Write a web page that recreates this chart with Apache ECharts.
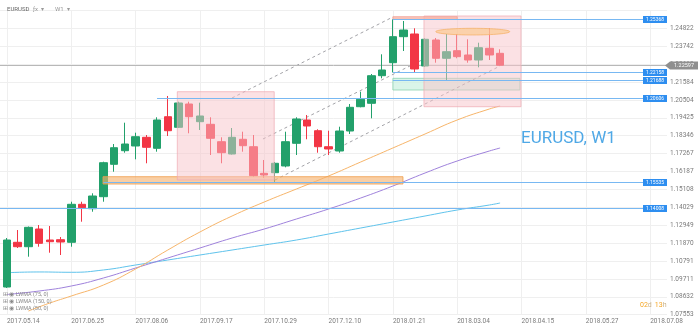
<!DOCTYPE html>
<html>
<head>
<meta charset="utf-8">
<script src="https://cdn.jsdelivr.net/npm/echarts@6/dist/echarts.min.js"></script>
<style>
  html, body { margin: 0; padding: 0; background: #ffffff; }
  #chart { width: 700px; height: 329px; }
</style>
</head>
<body>
<div id="chart"></div>
<script>
// Weekly EURUSD candles, first bar = week of 2017.05.14 (index 0)
const candleOpen  = [1.09222,1.11918,1.11652,1.12720,1.12057,1.12075,1.11918,1.14209,1.13944,1.14668,
                     1.16621,1.17442,1.17725,1.18249,1.17586,1.19491,1.18852,1.20257,1.19190,1.19033,
                     1.17984,1.17243,1.18129,1.17682,1.16078,1.16115,1.16519,1.17887,1.19293,1.18647,
                     1.17682,1.17423,1.18629,1.20094,1.20299,1.21964,1.22748,1.24316,1.24478,1.22549,
                     1.24117,1.23013,1.23471,1.23212,1.22910,1.23616,1.23314];
const candleClose = [1.12057,1.11652,1.12822,1.11857,1.11954,1.11936,1.14209,1.14004,1.14710,1.16718,
                     1.17622,1.17845,1.18286,1.17646,1.19293,1.18647,1.20318,1.19491,1.19534,1.18189,
                     1.17321,1.18249,1.17743,1.15934,1.15976,1.16682,1.17984,1.19353,1.18931,1.17682,
                     1.17544,1.18629,1.20058,1.20540,1.21964,1.22308,1.24316,1.24719,1.22368,1.24159,
                     1.23013,1.23411,1.23110,1.22910,1.23652,1.23212,1.22597];
const candleLow   = [1.09162,1.11574,1.11050,1.11652,1.11291,1.11152,1.11652,1.13160,1.13763,1.14366,
                     1.16175,1.17321,1.16923,1.16682,1.17381,1.18328,1.18810,1.18491,1.18690,1.17182,
                     1.16682,1.17212,1.17381,1.15874,1.15795,1.15535,1.16440,1.17182,1.18129,1.17321,
                     1.17182,1.17321,1.18448,1.20058,1.19395,1.21807,1.22158,1.23453,1.22145,1.22488,
                     1.22748,1.21705,1.23013,1.22748,1.22470,1.22910,1.22560];
const candleHigh  = [1.12177,1.12659,1.12871,1.12961,1.12901,1.12237,1.14366,1.14366,1.14873,1.16778,
                     1.17845,1.19130,1.18527,1.18388,1.19456,1.20740,1.20396,1.20396,1.20336,1.19456,
                     1.18249,1.18810,1.18587,1.18388,1.16881,1.16760,1.18587,1.19456,1.19594,1.18732,
                     1.18647,1.18888,1.20257,1.20999,1.22066,1.23254,1.25368,1.25262,1.24822,1.24219,
                     1.24237,1.24478,1.24478,1.24159,1.23954,1.24822,1.23556];

// Weighted moving averages, sampled at the listed weeks
const lwma50Weeks  = [2,4,6,9,12,15,18,21,24,27,30,33,36,39,42,45,46];
const lwma50       = [1.07775,1.08258,1.08680,1.09343,1.10308,1.11453,1.12539,1.13504,1.14348,1.15132,
                      1.15916,1.16761,1.17605,1.18449,1.19293,1.19956,1.20137];
const lwma75Weeks  = [0,3,6,9,12,15,18,21,24,27,30,33,36,39,42,45,46];
const lwma75       = [1.08770,1.08981,1.09283,1.09766,1.10368,1.10971,1.11574,1.12177,1.12720,1.13323,
                      1.13926,1.14589,1.15313,1.16097,1.16821,1.17423,1.17604];
const lwma150Weeks = [0,3,6,9,12,15,18,21,24,27,30,33,36,39,42,45,46];
const lwma150      = [1.10085,1.10130,1.10110,1.10250,1.10549,1.10851,1.11152,1.11453,1.11755,1.12056,
                      1.12418,1.12780,1.13142,1.13504,1.13865,1.14167,1.14287];

// Axis ticks
const xTickWeeks  = [0,6,12,18,24,30,36,42,48,54,60];
const xTickLabels = ['2017.05.14','2017.06.25','2017.08.06','2017.09.17','2017.10.29','2017.12.10',
                     '2018.01.21','2018.03.04','2018.04.15','2018.05.27','2018.07.08'];
const yTickLabels = ['1.07553','1.08632','1.09711','1.10791','1.11870','1.12949','1.14029','1.15108',
                     '1.16187','1.17267','1.18346','1.19425','1.20504','1.21584','1.22663','1.23742','1.24822'];
const yMin = 1.07553, yStep = 0.010793, yMax = 1.25925;
const xMin = -0.65, xMax = 61.57;

// Horizontal price levels (price, first week) and the live price
const levelPrices = [1.25368, 1.22158, 1.21688, 1.20606, 1.15535, 1.14008];
const levelStarts = [36, 36, 36, 14, 9, xMin];
const lastPrice = 1.22597;

// Drawn zones: [week from, price top, week to, price bottom]
const pinkZones  = [[15.89, 1.20999, 24.93, 1.15675], [38.9, 1.25564, 47.95, 1.20094]];
const orangeZone = [[8.96, 1.15873, 36.94, 1.15433]];
const mintZone   = [[36.0, 1.21807, 47.85, 1.21101]];
const topMarker  = [[36.0, 1.25521, 42.0, 1.25365]];
const ellipseZone = [[40.0, 1.24822, 46.9, 1.24418]];

// Parallel trend channel (start week, start price, end week, end price)
const channelLines = [[20.99, 1.20619, 36.0, 1.25503],
                      [23.88, 1.18146, 39.27, 1.23091],
                      [25.0, 1.15674, 45.99, 1.22548]];

const legendLines = ['LWMA (75, 0)', 'LWMA (150, 0)', 'LWMA (50, 0)'];

const UP = '#22a06b', DOWN = '#f23645';
const FONT = 'Roboto, "Noto Sans", sans-serif';

function zoneSeries(data, fill, stroke, z) {
  return {
    type: 'custom', z: z, silent: true, clip: false,
    data: data,
    encode: { x: [0, 2], y: [1, 3] },
    renderItem: function (params, api) {
      const a = api.coord([api.value(0), api.value(1)]);
      const b = api.coord([api.value(2), api.value(3)]);
      return {
        type: 'rect',
        shape: { x: Math.min(a[0], b[0]), y: Math.min(a[1], b[1]),
                 width: Math.abs(b[0] - a[0]), height: Math.abs(b[1] - a[1]) },
        style: { fill: fill, stroke: stroke, lineWidth: 1 }
      };
    }
  };
}

const chart = echarts.init(document.getElementById('chart'), null, { renderer: 'canvas' });

const option = {
  animation: false,
  backgroundColor: '#ffffff',
  grid: { left: 0, right: 33, top: 10, bottom: 14.3, outerBoundsMode: 'none', containLabel: false },
  xAxis: {
    type: 'value', min: xMin, max: xMax,
    axisLine: { show: false },
    axisTick: { show: false, customValues: xTickWeeks },
    splitLine: { show: true, lineStyle: { color: '#efefef', width: 1 } },
    axisLabel: {
      customValues: xTickWeeks,
      align: 'left', margin: 3, fontSize: 6.5, color: '#7a7a7a', fontFamily: FONT,
      formatter: function (v) {
        const k = xTickWeeks.indexOf(Math.round(v));
        return k >= 0 ? xTickLabels[k] : '';
      }
    }
  },
  yAxis: {
    type: 'value', position: 'right', min: yMin, max: yMax, interval: yStep, scale: true,
    axisLine: { show: false }, axisTick: { show: false },
    splitLine: { show: true, lineStyle: { color: '#efefef', width: 1 } },
    axisLabel: {
      margin: 3, fontSize: 6.5, color: '#7a7a7a', fontFamily: FONT,
      formatter: function (v) {
        const k = Math.round((v - yMin) / yStep);
        if (k < 0 || k >= yTickLabels.length) return '';
        return Math.abs(v - (yMin + k * yStep)) < 1e-5 ? yTickLabels[k] : '';
      }
    }
  },
  series: [
    zoneSeries(mintZone, 'rgba(205,242,225,0.75)', 'rgba(140,210,175,0.8)', 1),
    {
      type: 'line', name: 'LWMA 150', z: 2, symbol: 'none', smooth: true, silent: true,
      data: lwma150Weeks.map((w, k) => [w, lwma150[k]]),
      lineStyle: { color: '#5fc3ec', width: 1 }
    },
    {
      type: 'line', name: 'LWMA 75', z: 2, symbol: 'none', smooth: true, silent: true,
      data: lwma75Weeks.map((w, k) => [w, lwma75[k]]),
      lineStyle: { color: '#9f82dc', width: 1 }
    },
    {
      type: 'line', name: 'LWMA 50', z: 2, symbol: 'none', smooth: true, silent: true,
      data: lwma50Weeks.map((w, k) => [w, lwma50[k]]),
      lineStyle: { color: '#f7b56a', width: 1 }
    },
    {
      // channel lines
      type: 'custom', z: 2, silent: true, clip: false,
      data: channelLines,
      encode: { x: [0, 2], y: [1, 3] },
      renderItem: function (params, api) {
        const a = api.coord([api.value(0), api.value(1)]);
        const b = api.coord([api.value(2), api.value(3)]);
        return { type: 'line', shape: { x1: a[0], y1: a[1], x2: b[0], y2: b[1] },
                 style: { stroke: '#a3a3a8', lineWidth: 1, lineDash: [3, 3] } };
      }
    },
    {
      // live price line and tag
      type: 'custom', z: 3, silent: true, clip: false,
      data: [[xMin, lastPrice]],
      encode: { x: 0, y: 1 },
      renderItem: function (params, api) {
        const cs = params.coordSys;
        const right = cs.x + cs.width;
        const a = api.coord([api.value(0), api.value(1)]);
        const y = Math.round(a[1]) + 0.5;
        return { type: 'group', children: [
          { type: 'line', shape: { x1: a[0], y1: y, x2: right, y2: y },
            style: { stroke: '#b8b8b8', lineWidth: 1 } },
          { type: 'polygon', shape: { points: [[right - 2, y], [right + 3, y - 4], [right + 31, y - 4], [right + 31, y + 4], [right + 3, y + 4]] },
            style: { fill: '#8f8f8f' } },
          { type: 'text', style: { text: lastPrice.toFixed(5), x: right + 17, y: y, align: 'center', verticalAlign: 'middle',
            fontSize: 5.5, fill: '#ffffff', fontFamily: FONT } }
        ] };
      }
    },
    {
      type: 'candlestick', z: 4, barWidth: 8, silent: true, clip: false,
      data: candleOpen.map((o, i) => [i, o, candleClose[i], candleLow[i], candleHigh[i]]),
      encode: { x: 0, y: [1, 2, 3, 4] },
      itemStyle: { color: UP, color0: DOWN, borderColor: UP, borderColor0: DOWN, borderWidth: 1 }
    },
    zoneSeries(orangeZone, 'rgba(246,178,110,0.62)', 'rgba(240,160,80,0.85)', 6),
    zoneSeries(pinkZones, 'rgba(248,196,202,0.5)', 'rgba(240,170,178,0.7)', 6),
    zoneSeries(topMarker, 'rgba(248,180,165,0.75)', 'rgba(240,160,150,0.8)', 7),
    {
      type: 'custom', z: 7, silent: true, clip: false,
      data: ellipseZone,
      encode: { x: [0, 2], y: [1, 3] },
      renderItem: function (params, api) {
        const a = api.coord([api.value(0), api.value(1)]);
        const b = api.coord([api.value(2), api.value(3)]);
        return { type: 'ellipse',
                 shape: { cx: (a[0] + b[0]) / 2, cy: (a[1] + b[1]) / 2,
                          rx: Math.abs(b[0] - a[0]) / 2, ry: Math.abs(b[1] - a[1]) / 2 },
                 style: { fill: 'rgba(250,200,140,0.65)', stroke: 'rgba(245,175,100,0.7)', lineWidth: 1 } };
      }
    },
    {
      // price levels with tags on the right edge
      type: 'custom', z: 8, silent: true, clip: false,
      data: levelPrices.map((p, k) => [levelStarts[k], p]),
      encode: { x: 0, y: 1 },
      renderItem: function (params, api) {
        const cs = params.coordSys;
        const right = cs.x + cs.width;
        const a = api.coord([api.value(0), api.value(1)]);
        const y = Math.round(a[1]) + 0.5;
        return { type: 'group', children: [
          { type: 'line', shape: { x1: a[0], y1: y, x2: right - 24, y2: y },
            style: { stroke: '#78b8f2', lineWidth: 1 } },
          { type: 'rect', shape: { x: right - 24, y: y - 3.5, width: 24, height: 7 },
            style: { fill: '#2e8ef0' } },
          { type: 'text', style: { text: levelPrices[params.dataIndex].toFixed(5), x: right - 12, y: y,
            align: 'center', verticalAlign: 'middle', fontSize: 5, fill: '#ffffff', fontFamily: FONT } }
        ] };
      }
    }
  ],
  graphic: [
    { type: 'text', left: 7, top: 6, z: 20, style: { text: 'EURUSD', fontSize: 6, fill: '#666', fontFamily: FONT } },
    { type: 'text', left: 33, top: 6, z: 20, style: { text: 'ƒx  ▾', fontSize: 6, fill: '#999', fontFamily: FONT } },
    { type: 'text', left: 55, top: 6, z: 20, style: { text: 'W1  ▾', fontSize: 6, fill: '#999', fontFamily: FONT } },
    { type: 'text', left: 521, top: 130, z: 20, style: { text: 'EURUSD, W1', fontSize: 17, fill: '#4fa8e6', fontFamily: FONT } },
    { type: 'text', left: 640, top: 299, z: 20, style: {
      text: '{a|02}{b|d} {a|13}{b|h}', fontFamily: FONT,
      rich: { a: { fontSize: 7, fill: '#f5a623', fontFamily: FONT }, b: { fontSize: 7, fill: '#c9b28a', fontFamily: FONT } } } },
    { type: 'text', left: 3, top: 292, z: 20, style: { text: '⊞ ◉ ' + legendLines[0], fontSize: 5.5, fill: '#8a8a8a', fontFamily: FONT } },
    { type: 'text', left: 3, top: 299, z: 20, style: { text: '⊞ ◉ ' + legendLines[1], fontSize: 5.5, fill: '#8a8a8a', fontFamily: FONT } },
    { type: 'text', left: 3, top: 306, z: 20, style: { text: '⊞ ◉ ' + legendLines[2], fontSize: 5.5, fill: '#8a8a8a', fontFamily: FONT } }
  ]
};

chart.setOption(option);
</script>
</body>
</html>
